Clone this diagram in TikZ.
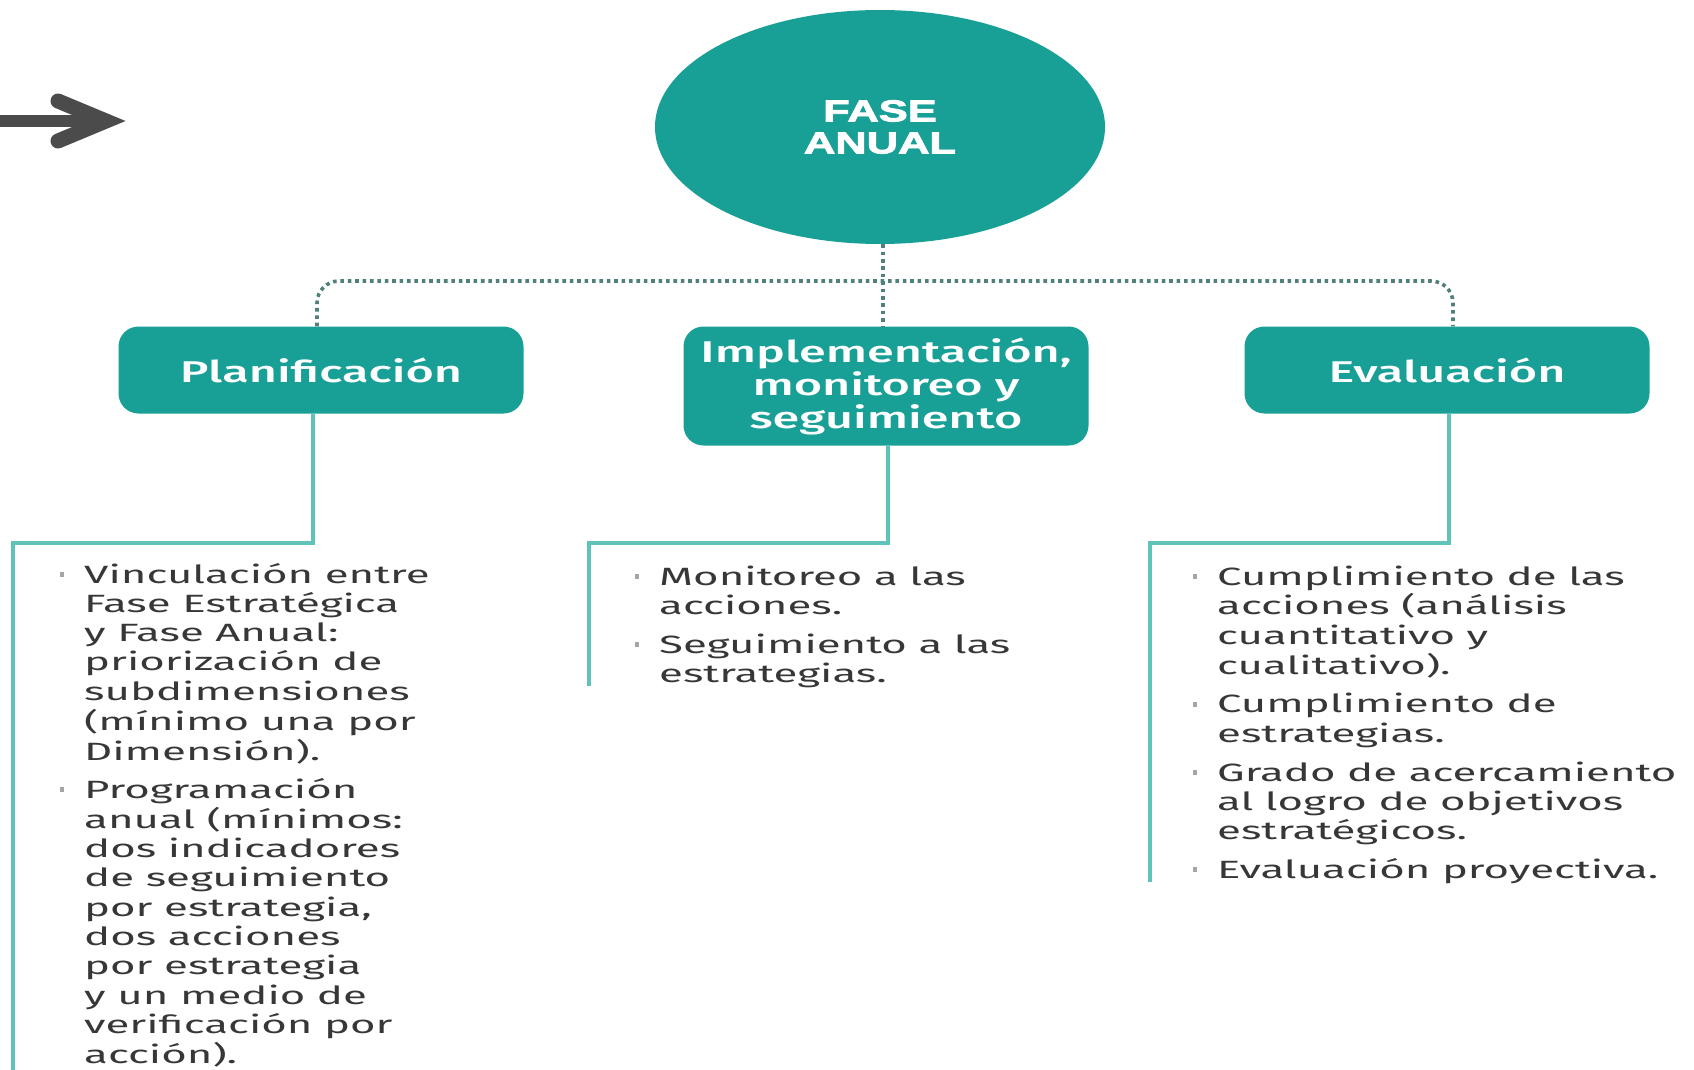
\documentclass[tikz,border=0pt]{standalone}
\usepackage{fontspec}
\usetikzlibrary{shapes.geometric}
\setmainfont{Fira Sans}
\newfontfamily\bodyfont[FakeStretch=1.75]{Fira Sans}
\newfontfamily\boxfont[FakeStretch=1.62]{Fira Sans Medium}
\newfontfamily\titlefont[FakeStretch=1.45, FakeBold=3, UprightFont={* Bold}]{Liberation Sans}
\definecolor{tealA}{RGB}{24,160,150}
\definecolor{lineteal}{RGB}{95,195,185}
\definecolor{dotcol}{RGB}{80,128,124}
\definecolor{txtgray}{RGB}{55,55,55}
\definecolor{bulcol}{RGB}{165,165,165}
\definecolor{arrowcol}{RGB}{75,75,75}
\newcommand{\bul}{\makebox[29pt][l]{\hspace{5pt}\textcolor{bulcol}{\rule[6pt]{3.5pt}{5pt}}}}
\tikzset{
  phase/.style={ellipse, fill=tealA, minimum width=450, minimum height=234, inner sep=0,
    text=white, font=\titlefont\fontsize{30}{32}\selectfont, align=center},
  stepbox/.style={rectangle, rounded corners=20, fill=tealA, text=white,
    font=\boxfont\fontsize{30}{33}\selectfont, align=center, minimum width=405, inner sep=0},
  dotline/.style={draw=dotcol, line width=3.6, dash pattern=on 3.6 off 3.8},
  conline/.style={draw=lineteal, line width=3.5},
  bodytext/.style={font=\bodyfont\fontsize{25}{29.3}\selectfont, text=txtgray, inner sep=0, anchor=base west},
}
\begin{document}
\begin{tikzpicture}[x=1pt,y=-1pt]
\useasboundingbox (0,0) rectangle (1694,1070);
% arrow
\draw[arrowcol, line width=12] (0,121) -- (100,121);
\draw[arrowcol, line width=15, line cap=round, line join=miter] (58,101) -- (106,121) -- (58,141);
% main nodes
\node[phase] (fa) at (880,127) {FASE\\ANUAL};
\node[stepbox, minimum height=87] (plan) at (321,370) {Planificación};
\node[stepbox, minimum height=119] (impl) at (886,386) {Implementación,\\monitoreo y\\seguimiento};
\node[stepbox, minimum height=87] (eval) at (1447,370) {Evaluación};
% dotted connectors
\coordinate (hub) at (883,281);
\draw[dotline] (fa.south -| hub) -- (impl.north -| hub);
\draw[dotline, rounded corners=22] ([xshift=-4]plan.north) |- (hub) -| ([xshift=6]eval.north);
% solid connectors
\coordinate (pc) at (13,543);
\coordinate (pe) at (13,1070);
\coordinate (mc) at (589,543);
\coordinate (me) at (589,686);
\coordinate (ec) at (1150,543);
\coordinate (ee) at (1150,882);
\draw[conline] ([xshift=-8]plan.south) |- (pc) -- (pe);
\draw[conline] ([xshift=2]impl.south) |- (mc) -- (me);
\draw[conline] ([xshift=2]eval.south) |- (ec) -- (ee);
% lists
\node[bodytext] (plist) at (55,583) {\begin{tabular}[t]{@{}l@{}l@{}}
\bul & Vinculación entre\\
 & Fase Estratégica\\
 & y Fase Anual:\\
 & priorización de\\
 & subdimensiones\\
 & (mínimo una por\\
 & Dimensión).\\[9pt]
\bul & Programación\\
 & anual (mínimos:\\
 & dos indicadores\\
 & de seguimiento\\
 & por estrategia,\\
 & dos acciones\\
 & por estrategia\\
 & y un medio de\\
 & verificación por\\
 & acción).
\end{tabular}};
\node[bodytext] (ilist) at (630,585) {\begin{tabular}[t]{@{}l@{}l@{}}
\bul & Monitoreo a las\\
 & acciones.\\[9.5pt]
\bul & Seguimiento a las\\
 & estrategias.
\end{tabular}};
\node[bodytext] (elist) at (1188,585) {\begin{tabular}[t]{@{}l@{}l@{}}
\bul & Cumplimiento de las\\
 & acciones (análisis\\
 & cuantitativo y\\
 & cualitativo).\\[9.5pt]
\bul & Cumplimiento de\\
 & estrategias.\\[9.5pt]
\bul & Grado de acercamiento\\
 & al logro de objetivos\\
 & estratégicos.\\[9.5pt]
\bul & Evaluación proyectiva.
\end{tabular}};
\end{tikzpicture}
\end{document}
